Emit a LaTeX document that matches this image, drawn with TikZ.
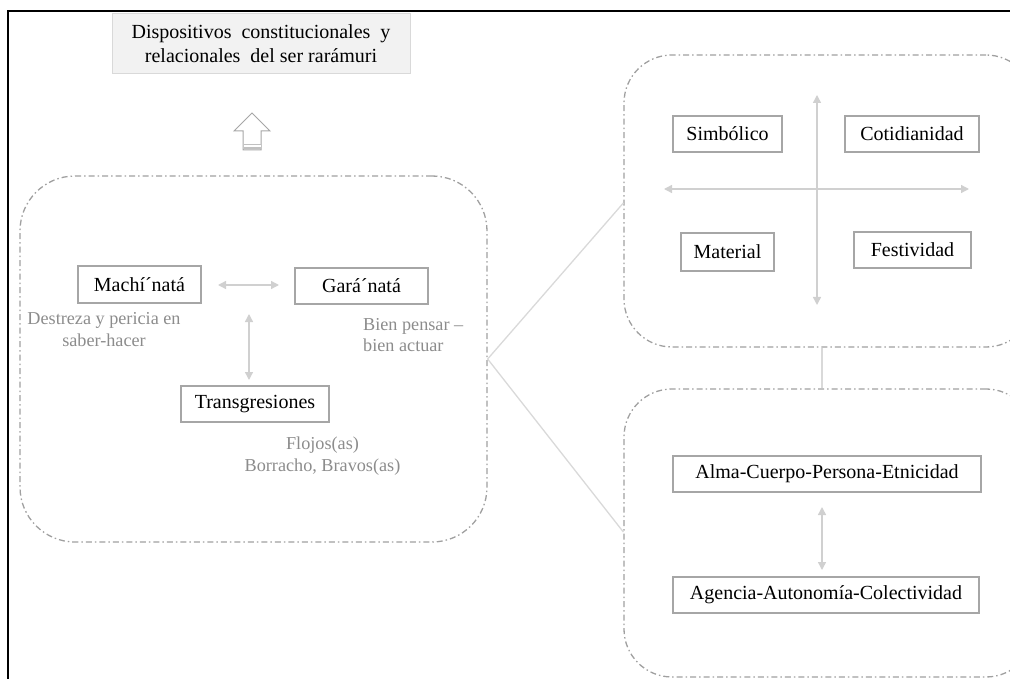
\documentclass[tikz,border=0pt]{standalone}
\usepackage{fontspec}
\setmainfont{Liberation Serif}
\usetikzlibrary{arrows.meta,calc}

\definecolor{frameline}{HTML}{000000}
\definecolor{boxline}{HTML}{A6A6A6}
\definecolor{titlefill}{HTML}{F2F2F2}
\definecolor{titleline}{HTML}{D9D9D9}
\definecolor{notetext}{HTML}{8C8C8C}
\definecolor{arrowgray}{HTML}{D0D0D0}
\definecolor{linkgray}{HTML}{D9D9D9}
\definecolor{groupline}{HTML}{A0A0A0}

\tikzset{
  labelbox/.style={draw=boxline, line width=1.3pt, fill=white, inner sep=0pt,
    font=\fontsize{20}{23}\selectfont, text=black},
  groupbox/.style={draw=groupline, line width=1.3pt, rounded corners=55pt,
    dash pattern=on 6pt off 3pt on 1.5pt off 3pt, inner sep=0pt},
  note/.style={font=\fontsize{18.2}{21.5}\selectfont, text=notetext, inner sep=0pt},
  twoway/.style={draw=arrowgray, line width=1.4pt,
    {Triangle[length=8pt,width=8pt]}-{Triangle[length=8pt,width=8pt]}},
  link/.style={draw=linkgray, line width=1.3pt},
}

\begin{document}
\begin{tikzpicture}[x=1pt,y=-1pt]
\useasboundingbox (0,0) rectangle (1010,679);
\clip (0,0) rectangle (1010,679);

% outer frame (top and left edges)
\draw[frameline, line width=2.6pt] (7,11) -- (1012,11);
\draw[frameline, line width=2.6pt] (8,11) -- (8,681);

% title
\node[fill=titlefill, draw=titleline, line width=0.8pt, minimum width=298pt,
  minimum height=60pt, inner sep=0pt, align=center,
  font=\fontsize{20}{23.5}\selectfont] (title) at (261,43.5)
  {Dispositivos\ \ constitucionales\ \ y\\relacionales\ \ del ser rarámuri};

% hollow block arrow pointing up to the title
\coordinate (up) at (252,131);
\draw[boxline, line width=1pt, fill=white]
  (252,113) -- (270,131) -- (261,131) -- (261,150) -- (243,150) -- (243,131)
  -- (234,131) -- cycle;
\fill[boxline!70] (243.5,144) rectangle (260.5,149.5);
\fill[white] (243.5,145.5) rectangle (260.5,146.8);

% three groups
\node[groupbox, minimum width=467pt, minimum height=366pt] (left) at (253.5,359) {};
\node[groupbox, minimum width=410pt, minimum height=292pt, rounded corners=48pt] (rtop) at (829,201) {};
\node[groupbox, minimum width=410pt, minimum height=288pt, rounded corners=48pt] (rbot) at (829,533) {};

% links between the groups
\draw[link] (left.east) -- ($(rtop.west)+(0,2)$);
\draw[link] (left.east) -- ($(rbot.west)+(0,-1)$);
\draw[link] ($(rtop.south)+(-7,0)$) -- ($(rbot.north)+(-7,0)$);

% left group
\node[labelbox, minimum width=123pt, minimum height=37pt] (mach) at (139.5,284.5) {Machí´natá};
\node[labelbox, minimum width=133pt, minimum height=36pt] (gara) at (361.5,286) {Gará´natá};
\node[labelbox, minimum width=148pt, minimum height=36pt] (trans) at (255,404) {Transgresiones};

\coordinate (mg1) at (218,285);
\coordinate (mg2) at (279,285);
\draw[twoway] (mg1) -- (mg2);
\coordinate (tv1) at (249,314);
\coordinate (tv2) at (249,380);
\draw[twoway] (tv1) -- (tv2);

\node[note, align=center] (machnote) at (104,329.5) {Destreza y pericia en\\saber-hacer};
\node[note, align=left, anchor=west] (garanote) at (363,335) {Bien pensar –\\bien actuar};
\node[note, align=center] (transnote) at (322.5,456) {Flojos(as)\\Borracho, Bravos(as)};

% top right group: quadrants
\node[labelbox, minimum width=109pt, minimum height=36pt] (simb) at (727.5,134) {Simbólico};
\node[labelbox, minimum width=134pt, minimum height=36pt] (coti) at (912,134) {Cotidianidad};
\node[labelbox, minimum width=93pt, minimum height=38pt] (mate) at (727.5,252) {Material};
\node[labelbox, minimum width=117pt, minimum height=36pt] (fest) at (912.5,250) {Festividad};

\coordinate (ax1) at (817,95);
\coordinate (ax2) at (817,305);
\coordinate (ay1) at (664,189);
\coordinate (ay2) at (969,189);
\draw[twoway] (ax1) -- (ax2);
\draw[twoway] (ay1) -- (ay2);

% bottom right group
\node[labelbox, minimum width=308pt, minimum height=36pt] (alma) at (827,474) {Alma-Cuerpo-Persona-Etnicidad};
\node[labelbox, minimum width=306pt, minimum height=36pt] (agen) at (826,595) {Agencia-Autonomía-Colectividad};

\coordinate (aa1) at (822,507);
\coordinate (aa2) at (822,570);
\draw[twoway] (aa1) -- (aa2);
\end{tikzpicture}
\end{document}
